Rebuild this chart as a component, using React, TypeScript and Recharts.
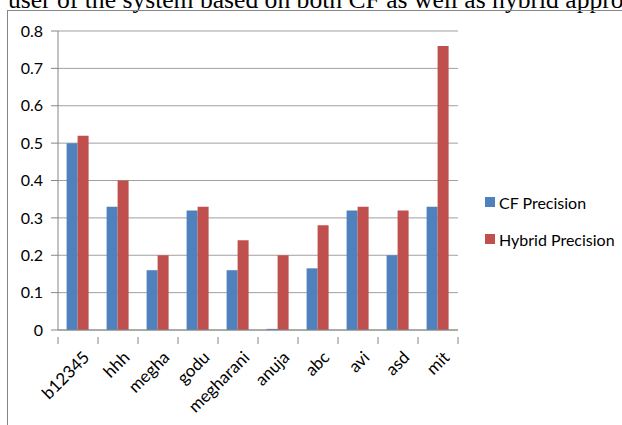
import React from "react";
import { BarChart, Bar, XAxis, YAxis, CartesianGrid, Legend } from "recharts";

const users = ["b12345", "hhh", "megha", "godu", "megharani", "anuja", "abc", "avi", "asd", "mit"];
const cfPrecision = [0.5, 0.33, 0.16, 0.32, 0.16, 0.003, 0.165, 0.32, 0.2, 0.33];
const hybridPrecision = [0.52, 0.4, 0.2, 0.33, 0.24, 0.2, 0.28, 0.33, 0.32, 0.76];
const yTicks = [0, 0.1, 0.2, 0.3, 0.4, 0.5, 0.6, 0.7, 0.8];
const seriesNames = ["CF Precision", "Hybrid Precision"];

const BLUE = "#4F81BD";
const RED = "#C0504D";
const AXIS = "#868686";
const GRID = "#A0A0A0";
const LABEL_FONT = "Lato, 'Open Sans', sans-serif";

const W = 622;
const H = 425;
const MARGIN = { top: 31, right: 164, bottom: 15, left: 8 };
const Y_AXIS_W = 50;
const PLOT_W = W - MARGIN.left - MARGIN.right - Y_AXIS_W;
const BAND = PLOT_W / users.length;

const rows = users.map((u, i) => ({
  user: u,
  cf: cfPrecision[i],
  hybrid: hybridPrecision[i],
}));

// Category label rotated 45°, plus tick marks at the category boundaries
function XTick(props: any) {
  const { x, y, payload, index } = props;
  const left = x - BAND / 2;
  const right = x + BAND / 2;
  return (
    <g>
      <line x1={left} y1={y - 1} x2={left} y2={y + 6} stroke={AXIS} strokeWidth={1} />
      {index === users.length - 1 && (
        <line x1={right} y1={y - 1} x2={right} y2={y + 6} stroke={AXIS} strokeWidth={1} />
      )}
      <text
        x={0}
        y={0}
        transform={`translate(${x + 8}, ${y + 16}) rotate(-45)`}
        textAnchor="end"
        fill="#000"
        fontSize={17}
        fontFamily={LABEL_FONT}
        dominantBaseline="central"
      >
        {payload.value}
      </text>
    </g>
  );
}

function LegendBox() {
  const colors = [BLUE, RED];
  return (
    <div style={{ fontFamily: LABEL_FONT, fontSize: 16, color: "#000" }}>
      {seriesNames.map((name, i) => (
        <div
          key={name}
          style={{ display: "flex", alignItems: "center", height: 20, marginBottom: i === 0 ? 17 : 0 }}
        >
          <span style={{ width: 10, height: 10, background: colors[i], marginRight: 4, display: "inline-block" }} />
          <span style={{ whiteSpace: "nowrap" }}>{name}</span>
        </div>
      ))}
    </div>
  );
}

export default function App() {
  return (
    <div
      style={{
        position: "absolute",
        left: 0,
        top: 0,
        width: W,
        height: H,
        overflow: "hidden",
        background: "#fff",
      }}
    >
      <div
        style={{
          position: "absolute",
          left: 8,
          top: -13,
          whiteSpace: "nowrap",
          fontFamily: "'Times New Roman', 'Liberation Serif', serif",
          fontSize: 25.6,
          lineHeight: "26px",
          color: "#000",
        }}
      >
        user of the system based on both CF as well as hybrid approach.
      </div>
      <div
        style={{
          position: "absolute",
          left: 7,
          top: 10,
          width: 700,
          height: 500,
          border: `1.5px solid ${AXIS}`,
        }}
      />
      <div style={{ position: "absolute", left: 0, top: 0 }}>
        <BarChart
          width={W}
          height={H}
          data={rows}
          margin={MARGIN}
          barCategoryGap="21.5%"
          barGap={0}
        >
          <CartesianGrid horizontal vertical={false} stroke={GRID} strokeWidth={1} />
          <XAxis
            dataKey="user"
            interval={0}
            height={80}
            stroke={AXIS}
            tickLine={false}
            tick={<XTick />}
          />
          <YAxis
            width={Y_AXIS_W}
            domain={[0, 0.8]}
            ticks={yTicks}
            interval={0}
            stroke={AXIS}
            tickSize={7}
            tickMargin={8}
            tick={{ fill: "#000", fontSize: 16, fontFamily: LABEL_FONT }}
            tickFormatter={(v: number) => (v === 0 ? "0" : v.toFixed(1))}
          />
          <Legend
            layout="vertical"
            align="center"
            verticalAlign="middle"
            content={<LegendBox />}
            wrapperStyle={{ position: "absolute", left: 485, top: 192, width: 140, height: 60 }}
          />
          <Bar dataKey="cf" name={seriesNames[0]} fill={BLUE} isAnimationActive={false} />
          <Bar dataKey="hybrid" name={seriesNames[1]} fill={RED} isAnimationActive={false} />
        </BarChart>
      </div>
    </div>
  );
}
